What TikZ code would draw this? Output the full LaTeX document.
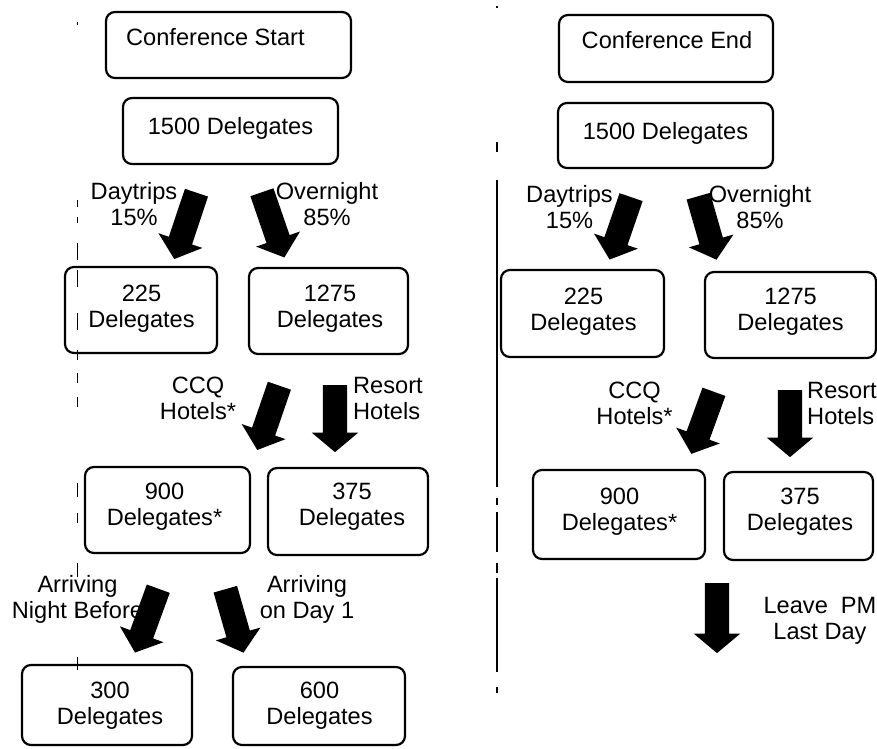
\documentclass[tikz,border=0pt]{standalone}
\usepackage{fontspec}
\setmainfont{Liberation Sans}
\usetikzlibrary{shapes.arrows,fit}
\begin{document}
\begin{tikzpicture}[x=1pt,y=-1pt,
  box/.style={draw, line width=2.2pt, rounded corners=9pt, inner sep=0pt},
  txt/.style={anchor=north, inner sep=0pt, align=center, font=\fontsize{23.6}{26}\selectfont},
  fat/.style={single arrow, draw=none, fill=black, inner xsep=0pt, inner ysep=12pt,
    minimum width=0pt, single arrow head extend=11pt, single arrow tip angle=100},
  rule/.style={line width=1.1pt}]
\useasboundingbox (0,0) rectangle (877,748);
% scan rules
\foreach \a/\b in {22/25,200/207,217/223,243/260,270/287,313/330,350/360,373/383,397/407,483/497,513/523,563/577,612/618,657/670}
  \draw[rule] (77.5,\a) -- (77.5,\b);
\foreach \a/\b in {6/8,142/152,180/487,498/505,512/552,563/573,578/672,687/693}
  \draw[rule] (497,\a) -- (497,\b);
% left boxes
\node[box, fit={(106,12) (351,78)}] (bStart) {};
\node[box, fit={(123,98) (338,164)}] (b1500L) {};
\node[box, fit={(65,267) (217,353)}] (b225L) {};
\node[box, fit={(249,268) (408,354)}] (b1275L) {};
\node[box, fit={(85,467) (250,553)}] (b900L) {};
\node[box, fit={(268,468) (428,555)}] (b375L) {};
\node[box, fit={(22,665) (192,745)}] (b300) {};
\node[box, fit={(233,667) (405,745)}] (b600) {};
% right boxes
\node[box, fit={(559,15) (773,82)}] (bEnd) {};
\node[box, fit={(558,103) (773,168)}] (b1500R) {};
\node[box, fit={(501,270) (664,357)}] (b225R) {};
\node[box, fit={(705,272) (876,358)}] (b1275R) {};
\node[box, fit={(533,470) (705,559)}] (b900R) {};
\node[box, fit={(724,472) (873,560)}] (b375R) {};
% left texts
\node[txt, anchor=north west] (tStart) at (126,28.5) {Conference Start};
\node[txt] (t1500L) at (230.5,117) {1500 Delegates};
\node[txt] (tDayL) at (134,182) {Daytrips\\15\%};
\node[txt] (tOverL) at (327,182) {Overnight\\85\%};
\node[txt] (t225L) at (141.5,285) {225\\Delegates};
\node[txt] (t1275L) at (330,285) {1275\\Delegates};
\node[txt] (tCCQL) at (198,377) {CCQ\\Hotels*};
\node[txt, anchor=north west, align=left] (tResL) at (353,377) {Resort\\Hotels};
\node[txt] (t900L) at (164.5,483) {900\\Delegates*};
\node[txt] (t375L) at (352,483) {375\\Delegates};
\node[txt] (tNight) at (77.5,575) {Arriving\\Night Before};
\node[txt] (tDay1) at (307,575) {Arriving\\on Day 1};
\node[txt] (t300) at (110,682) {300\\Delegates};
\node[txt] (t600) at (319.5,682) {600\\Delegates};
% right texts
\node[txt] (tEnd) at (667,31.5) {Conference End};
\node[txt] (t1500R) at (665.5,122) {1500 Delegates};
\node[txt] (tDayR) at (569.5,185) {Daytrips\\15\%};
\node[txt] (tOverR) at (760,185) {Overnight\\85\%};
\node[txt] (t225R) at (583.5,288) {225\\Delegates};
\node[txt] (t1275R) at (790.5,288) {1275\\Delegates};
\node[txt] (tCCQR) at (634.5,382) {CCQ\\Hotels*};
\node[txt, anchor=north west, align=left] (tResR) at (807,382) {Resort\\Hotels};
\node[txt] (t900R) at (619.5,488) {900\\Delegates*};
\node[txt] (t375R) at (800,488) {375\\Delegates};
\node[txt] (tLeave) at (820,597) {Leave\ \ PM\\Last Day};
% fat arrows left
\node[fat, minimum height=70pt, rotate=-108.5] (aDayL) at (187,221) {};
\node[fat, minimum height=69pt, rotate=-71] (aOverL) at (271.5,220) {};
\node[fat, minimum height=68pt, rotate=-109] (aCCQL) at (270,413) {};
\node[fat, minimum height=67pt, rotate=-90] (aResL) at (335,413.5) {};
\node[fat, minimum height=68pt, rotate=-110] (aNight) at (148.4,615.8) {};
\node[fat, minimum height=66pt, rotate=-74] (aDay1) at (233,616) {};
% fat arrows right
\node[fat, minimum height=66pt, rotate=-109] (aDayR) at (622,223.5) {};
\node[fat, minimum height=66pt, rotate=-74] (aOverR) at (706,223) {};
\node[fat, minimum height=66pt, rotate=-110] (aCCQR) at (704.4,418) {};
\node[fat, minimum height=67pt, rotate=-90] (aResR) at (790,418.5) {};
\node[fat, minimum height=70pt, rotate=-90] (aLeave) at (717,613) {};
\end{tikzpicture}
\end{document}
